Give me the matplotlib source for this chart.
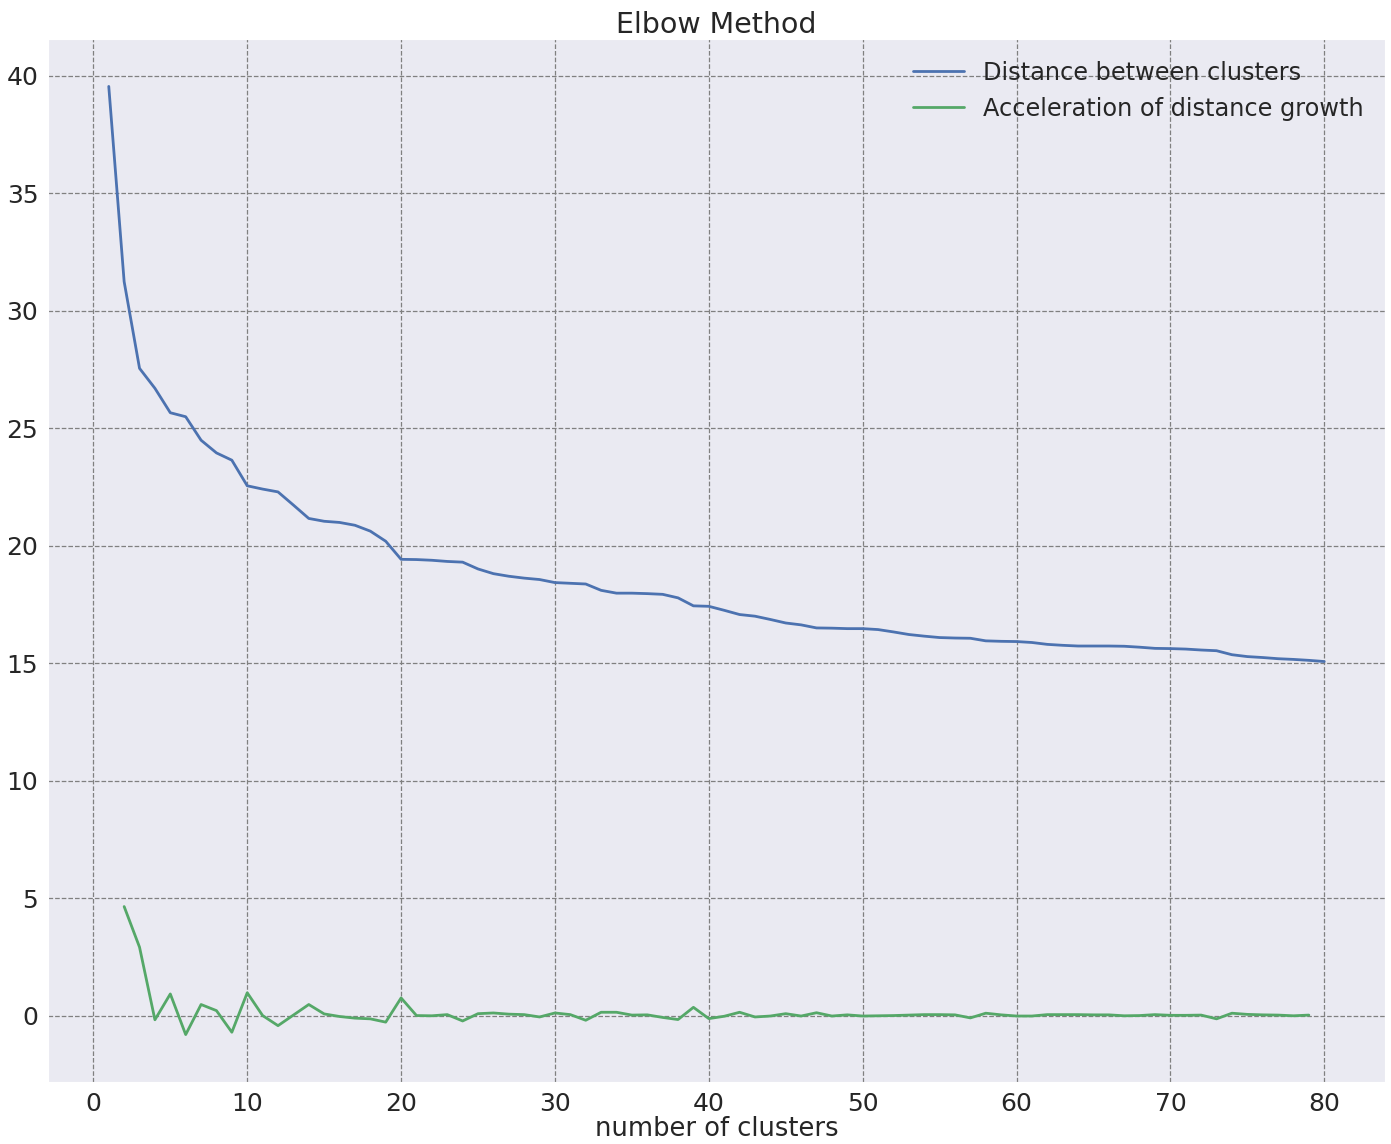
import matplotlib
matplotlib.use("Agg")
import matplotlib.pyplot as plt
import seaborn as sns

sns.set_style("darkgrid")

# distance between merged clusters, for 1..80 clusters
clusters = list(range(1, 81))
distance = [39.55, 31.24, 27.55, 26.70, 25.66, 25.49, 24.49, 23.95, 23.64, 22.55,
            22.41, 22.29, 21.73, 21.16, 21.04, 20.99, 20.87, 20.62, 20.19, 19.42,
            19.41, 19.38, 19.33, 19.30, 19.01, 18.81, 18.70, 18.62, 18.56, 18.43,
            18.40, 18.37, 18.10, 17.98, 17.98, 17.96, 17.93, 17.78, 17.44, 17.42,
            17.25, 17.07, 17.00, 16.86, 16.71, 16.63, 16.50, 16.49, 16.47, 16.47,
            16.43, 16.33, 16.22, 16.15, 16.09, 16.07, 16.06, 15.95, 15.93, 15.92,
            15.88, 15.80, 15.76, 15.73, 15.73, 15.73, 15.72, 15.68, 15.63, 15.62,
            15.60, 15.56, 15.53, 15.36, 15.28, 15.24, 15.19, 15.16, 15.12, 15.07]

# acceleration, for 2..79 clusters
accel_x = list(range(2, 80))
acceleration = [4.64, 2.91, -0.18, 0.92, -0.81, 0.47, 0.21, -0.71, 0.97, 0.00,
                -0.43, 0.02, 0.47, 0.07, -0.04, -0.11, -0.14, -0.28, 0.75, 0.00,
                -0.01, 0.04, -0.23, 0.08, 0.11, 0.06, 0.04, -0.06, 0.11, 0.04,
                -0.20, 0.14, 0.14, 0.02, 0.03, -0.08, -0.17, 0.35, -0.13, -0.03,
                0.14, -0.06, -0.02, 0.08, -0.02, 0.12, -0.02, 0.03, -0.02, -0.01,
                0.00, 0.02, 0.04, 0.04, 0.03, -0.10, 0.10, 0.03, -0.02, -0.02,
                0.04, 0.04, 0.04, 0.03, 0.03, -0.01, 0.00, 0.04, 0.01, 0.01,
                0.02, -0.14, 0.10, 0.05, 0.03, 0.02, -0.01, 0.02]

fig = plt.figure(figsize=(13.91, 11.44), dpi=100)
ax = fig.add_axes([0.0345, 0.0542, 0.9612, 0.9117])

ax.plot(clusters, distance, color="#4C72B0", lw=2, label="Distance between clusters")
ax.plot(accel_x, acceleration, color="#55A868", lw=2, label="Acceleration of distance growth")

ax.grid(True, linestyle="--", color="#808080", linewidth=0.9)
ax.tick_params(labelsize=18, colors="#262626", length=0, pad=7)
ax.set_title("Elbow Method", fontsize=20.5, color="#262626", pad=4)
ax.set_xlabel("number of clusters", fontsize=18.5, color="#262626", labelpad=0)
ax.legend(loc="upper right", fontsize=17.3, frameon=False, handlelength=2.1)

fig.savefig("out.png", dpi=100)
